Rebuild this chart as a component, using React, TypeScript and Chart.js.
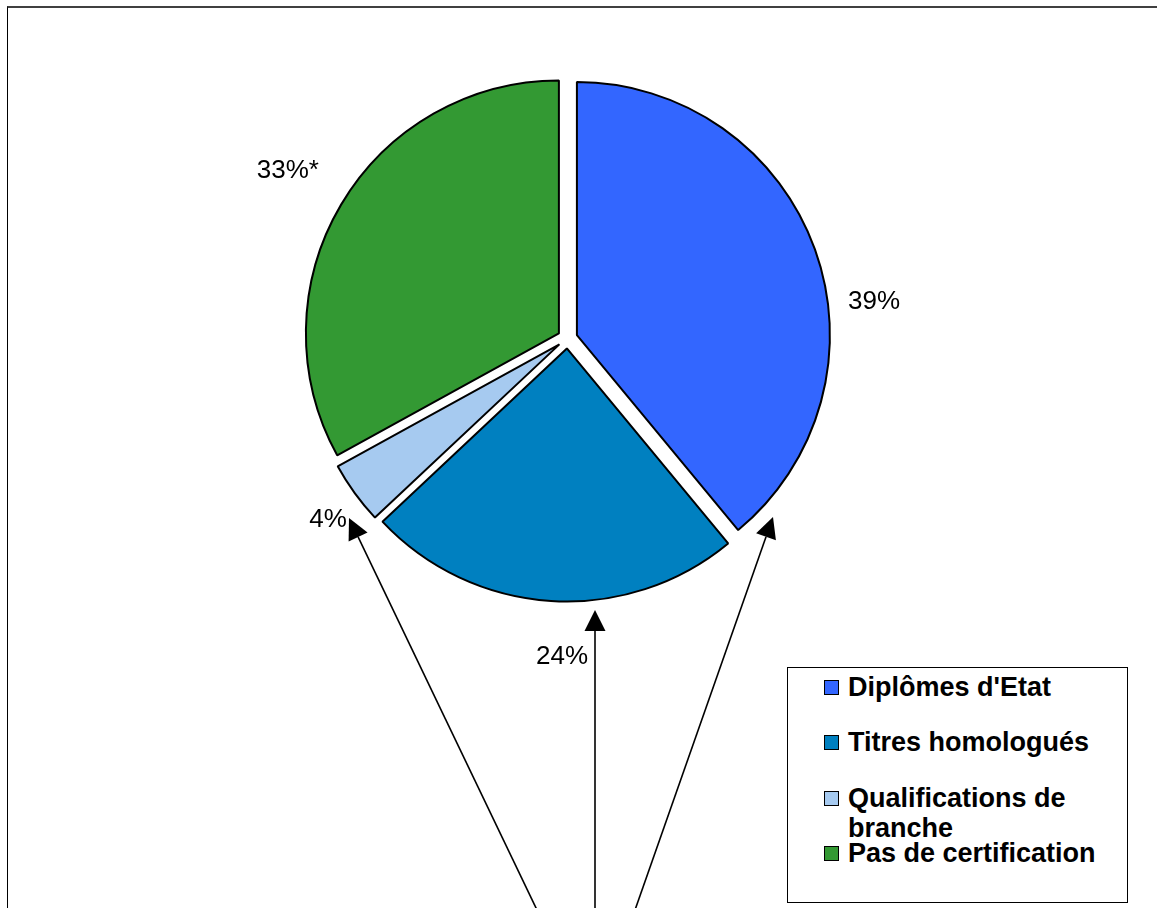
import React, { useEffect, useRef } from "react";
import { Chart, registerables } from "chart.js";

Chart.register(...registerables);

// ---------- data ----------
const categories = [
  "Diplômes d'Etat",
  "Titres homologués",
  "Qualifications de branche",
  "Pas de certification",
];
const shares = [39, 24, 4, 33];
const valueLabels = ["39%", "24%", "4%", "33%*"];
const colors = ["#3366FF", "#0080C0", "#A6CAF0", "#339933"];

// ---------- styling ----------
const FONT = "'Liberation Sans', Arial, Helvetica, sans-serif";
const RADIUS = 253;
const EXPLODE = 10;
// label placement relative to each slice's mid angle (degrees) and outer edge (px)
const labelShift = [
  { da: 12.5, dr: 56 },
  { da: -2.6, dr: 63 },
  { da: -0.8, dr: 46 },
  { da: 0.6, dr: 74 },
];
// annotation arrows (tail -> tip), canvas px
const arrows = [
  { from: [537, 910], to: [349, 518] },
  { from: [595, 910], to: [595, 610] },
  { from: [635, 910], to: [773, 517] },
];

const explodePlugin = {
  id: "explode",
  afterDatasetUpdate(chart: any, args: any) {
    const meta = chart.getDatasetMeta(args.index);
    meta.data.forEach((arc: any) => {
      const mid = (arc.startAngle + arc.endAngle) / 2;
      arc.x += Math.cos(mid) * EXPLODE;
      arc.y += Math.sin(mid) * EXPLODE;
    });
  },
};

const labelPlugin = {
  id: "sliceLabels",
  afterDatasetsDraw(chart: any) {
    const ctx = chart.ctx;
    const area = chart.chartArea;
    const cx = (area.left + area.right) / 2;
    const cy = (area.top + area.bottom) / 2;
    const meta = chart.getDatasetMeta(0);
    ctx.save();
    ctx.font = `26px ${FONT}`;
    ctx.fillStyle = "#000";
    ctx.textAlign = "center";
    ctx.textBaseline = "alphabetic";
    meta.data.forEach((arc: any, i: number) => {
      const mid = (arc.startAngle + arc.endAngle) / 2 + (labelShift[i].da * Math.PI) / 180;
      const r = arc.outerRadius + labelShift[i].dr;
      const x = cx + Math.cos(mid) * r;
      const y = cy + Math.sin(mid) * r;
      ctx.fillText(valueLabels[i], x, y + 9.3);
    });
    ctx.restore();
  },
};

const arrowPlugin = {
  id: "arrows",
  afterDraw(chart: any) {
    const ctx = chart.ctx;
    ctx.save();
    ctx.strokeStyle = "#000";
    ctx.fillStyle = "#000";
    ctx.lineWidth = 1.6;
    arrows.forEach((a) => {
      const [x0, y0] = a.from;
      const [x1, y1] = a.to;
      const ang = Math.atan2(y1 - y0, x1 - x0);
      const len = 21;
      const half = 10.5;
      const bx = x1 - Math.cos(ang) * len;
      const by = y1 - Math.sin(ang) * len;
      ctx.beginPath();
      ctx.moveTo(x0, y0);
      ctx.lineTo(bx, by);
      ctx.stroke();
      ctx.beginPath();
      ctx.moveTo(x1, y1);
      ctx.lineTo(bx + Math.sin(ang) * half, by - Math.cos(ang) * half);
      ctx.lineTo(bx - Math.sin(ang) * half, by + Math.cos(ang) * half);
      ctx.closePath();
      ctx.fill();
    });
    ctx.restore();
  },
};

export default function App() {
  const ref = useRef<HTMLCanvasElement | null>(null);

  useEffect(() => {
    if (!ref.current) return;
    Chart.defaults.font.family = FONT;
    const chart = new Chart(ref.current, {
      type: "pie",
      data: {
        labels: categories,
        datasets: [
          {
            data: shares,
            backgroundColor: colors,
            borderColor: "#000",
            borderWidth: 2,
            radius: RADIUS,
          } as any,
        ],
      },
      options: {
        responsive: false,
        devicePixelRatio: 1,
        animation: false,
        events: [],
        layout: { padding: { left: 0, top: 0, right: 22, bottom: 231 } },
        plugins: {
          legend: { display: false },
          tooltip: { enabled: false },
        },
      },
      plugins: [explodePlugin, labelPlugin, arrowPlugin],
    });
    return () => chart.destroy();
  }, []);

  return (
    <div
      style={{
        position: "fixed",
        left: 0,
        top: 0,
        width: 1157,
        height: 908,
        overflow: "hidden",
        background: "#fff",
      }}
    >
      <div
        style={{
          position: "absolute",
          left: 7,
          top: 6,
          width: 1300,
          height: 1000,
          borderTop: "2px solid #404040",
          borderLeft: "1px solid #000",
        }}
      />
      <canvas ref={ref} width={1157} height={908} style={{ position: "absolute", left: 0, top: 0 }} />
      <div
        style={{
          position: "absolute",
          left: 787,
          top: 667,
          width: 341,
          height: 236,
          border: "1px solid #000",
          boxSizing: "border-box",
          background: "#fff",
        }}
      >
        {categories.map((c, i) => (
          <div
            key={c}
            style={{
              position: "absolute",
              left: 36,
              top: 4 + i * 55.3,
              display: "flex",
              alignItems: "flex-start",
            }}
          >
            <span
              style={{
                display: "block",
                width: 15,
                height: 15,
                marginTop: 8,
                border: "1.5px solid #000",
                boxSizing: "border-box",
                background: colors[i],
                flex: "none",
              }}
            />
            <span
              style={{
                display: "block",
                marginLeft: 9,
                width: 268,
                font: `bold 27px ${FONT}`,
                lineHeight: "30px",
                color: "#000",
              }}
            >
              {c}
            </span>
          </div>
        ))}
      </div>
    </div>
  );
}
